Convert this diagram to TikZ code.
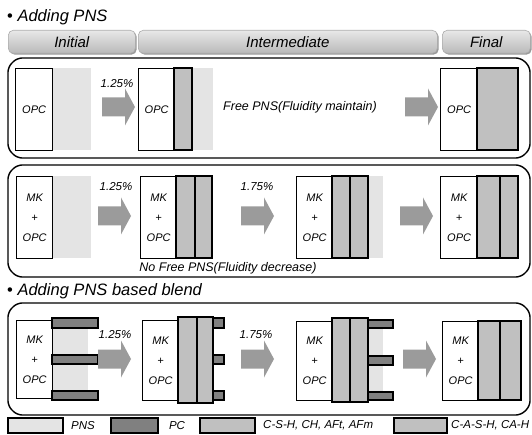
\documentclass[tikz,border=0pt]{standalone}
\usepackage{fontspec}
\setmainfont{Liberation Sans}
\usetikzlibrary{shadows}

\definecolor{pnsfill}{RGB}{228,228,228}
\definecolor{hydfill}{RGB}{192,192,192}
\definecolor{pcfill}{RGB}{128,128,128}
\definecolor{arrowfill}{RGB}{155,155,155}

\newcommand\lblfont{\fontsize{11}{20}\selectfont\itshape}
\newcommand\pctfont{\fontsize{11.5}{13}\selectfont\itshape}
\newcommand\notefont{\fontsize{12.5}{14}\selectfont\itshape}
\newcommand\legfont{\fontsize{11.5}{13}\selectfont\itshape}
\newcommand\tabfont{\fontsize{15}{17}\selectfont\itshape}
\newcommand\headfont{\fontsize{16.5}{18}\selectfont}

% chamfered frame round one row of stages
\newcommand\panelframe[4]{%
  \draw[frame] (#1,#2+9) -- (#1+9,#2) -- (#3-9,#2) -- (#3,#2+9)
    -- (#3,#4-9) -- (#3-9,#4) -- (#1+9,#4) -- (#1,#4-9) -- cycle;}
% block arrow: left end x, centre y
\newcommand\blockarrow[2]{%
  \fill[arrowfill] (#1,#2-9.5) -- (#1+23,#2-9.5) -- (#1+23,#2-18.5)
    -- (#1+33,#2) -- (#1+23,#2+18.5) -- (#1+23,#2+9.5) -- (#1,#2+9.5) -- cycle;}

\begin{document}
\begin{tikzpicture}[x=1pt,y=-1pt,
  outline/.style={draw=black,line width=1.3pt},
  cement/.style={outline,fill=white,inner sep=0pt,anchor=north west,
    font=\lblfont,align=center},
  pns/.style={fill=pnsfill},
  hyd/.style={outline,fill=hydfill},
  pcbar/.style={outline,fill=pcfill},
  legbox/.style={draw=black,line width=1.5pt},
  frame/.style={draw=black,line width=1.4pt,rounded corners=5pt},
  tab/.style={draw=gray!65,line width=0.6pt,rounded corners=5pt,
    top color=gray!18,bottom color=gray!55,anchor=north west,
    minimum height=23,inner sep=0pt,font=\tabfont,
    drop shadow={shadow xshift=1.3pt,shadow yshift=-1.3pt,fill=gray!80,opacity=1}},
  pct/.style={font=\pctfont,inner sep=0pt},
  note/.style={font=\notefont,inner sep=0pt},
  leg/.style={font=\legfont,inner sep=0pt}]

\useasboundingbox (0,0) rectangle (532,435);

% ---------- section headings ----------
\node[anchor=base west,font=\headfont,inner sep=0pt] (head1) at (7,22)
  {\textbullet\ \textit{Adding PNS}};
\node[anchor=base west,font=\headfont,inner sep=0pt] (head2) at (7,295)
  {\textbullet\ \textit{Adding PNS based blend}};

% ---------- stage tabs ----------
\node[tab,minimum width=127] (tabInit) at (8,30) {Initial};
\node[tab,minimum width=299] (tabMid) at (138,30) {Intermediate};
\node[tab,minimum width=88] (tabFin) at (442,30) {Final};

% ---------- row 1: OPC + PNS ----------
\panelframe{8}{58}{530}{158}
\fill[pns] (52,68) rectangle (91,150);
\node[cement,minimum width=37,minimum height=82] (r1a) at (15,68) {OPC};
\blockarrow{102}{107}
\node[pct] (r1p1) at (117,84) {1.25\%};
\fill[pns] (192,68) rectangle (213,150);
\node[cement,minimum width=36,minimum height=82] (r1b) at (138,68) {OPC};
\filldraw[hyd] (174,68) rectangle (192,150);
\node[note] (r1note) at (300,107) {Free PNS(Fluidity maintain)};
\blockarrow{405}{107}
\node[cement,minimum width=37,minimum height=82] (r1c) at (440,68) {OPC};
\filldraw[hyd] (477,68) rectangle (518,150);

% ---------- row 2: MK + OPC + PNS ----------
\panelframe{8}{165}{530}{277}
\fill[pns] (52,176) rectangle (91,258);
\node[cement,minimum width=36,minimum height=82] (r2a) at (16,176) {MK\\+\\OPC};
\blockarrow{98}{216}
\node[pct] (r2p1) at (116,187) {1.25\%};
\node[cement,minimum width=36,minimum height=82] (r2b) at (140,176) {MK\\+\\OPC};
\filldraw[hyd] (176,176) rectangle (195,258);
\filldraw[hyd] (195,176) rectangle (212,258);
\blockarrow{241}{216}
\node[pct] (r2p2) at (257,187) {1.75\%};
\fill[pns] (368,176) rectangle (383,258);
\node[cement,minimum width=36,minimum height=82] (r2c) at (296,176) {MK\\+\\OPC};
\filldraw[hyd] (332,176) rectangle (350,258);
\filldraw[hyd] (350,176) rectangle (368,258);
\blockarrow{400}{216}
\node[cement,minimum width=37,minimum height=82] (r2d) at (440,176) {MK\\+\\OPC};
\filldraw[hyd] (477,176) rectangle (500,258);
\filldraw[hyd] (500,176) rectangle (518,258);
\node[note] (r2note) at (228,268) {No Free PNS(Fluidity decrease)};

% ---------- row 3: PNS based blend ----------
\panelframe{8}{303}{530}{415}
\fill[pns] (52,318) rectangle (88,400);
\node[cement,minimum width=36,minimum height=78] (r3a) at (16,320) {MK\\+\\OPC};
\filldraw[pcbar] (52,318) rectangle (98,328);
\filldraw[pcbar] (52,355) rectangle (98,364);
\filldraw[pcbar] (52,391) rectangle (98,400);
\blockarrow{98}{359}
\node[pct] (r3p1) at (115,335) {1.25\%};
\node[cement,minimum width=36,minimum height=80] (r3b) at (142,320) {MK\\+\\OPC};
\filldraw[pcbar] (213,318) rectangle (224,328);
\filldraw[pcbar] (213,355) rectangle (224,364);
\filldraw[pcbar] (213,391) rectangle (224,400);
\filldraw[hyd] (178,317) rectangle (197,403);
\filldraw[hyd] (197,317) rectangle (213,403);
\blockarrow{241}{359}
\node[pct] (r3p2) at (256,335) {1.75\%};
\fill[pns] (368,321) rectangle (383,400);
\node[cement,minimum width=36,minimum height=79] (r3c) at (296,321) {MK\\+\\OPC};
\filldraw[pcbar] (368,320) rectangle (393,328);
\filldraw[pcbar] (368,356) rectangle (393,365);
\filldraw[pcbar] (368,392) rectangle (393,400);
\filldraw[hyd] (332,318) rectangle (350,402);
\filldraw[hyd] (350,318) rectangle (368,402);
\blockarrow{403}{359}
\node[cement,minimum width=36,minimum height=79] (r3d) at (442,321) {MK\\+\\OPC};
\filldraw[hyd] (478,321) rectangle (500,400);
\filldraw[hyd] (500,321) rectangle (521,400);

% ---------- legend ----------
\filldraw[legbox,fill=pnsfill] (8,418) rectangle (63,433);
\node[leg] (legPNS) at (83,425.5) {PNS};
\filldraw[legbox,fill=pcfill] (111,418) rectangle (158,433);
\node[leg] (legPC) at (177,425.5) {PC};
\filldraw[legbox,fill=hydfill] (200,418) rectangle (255,433);
\node[leg,anchor=west] (legCSH) at (263,425.5) {C-S-H, CH, AFt, AFm};
\filldraw[legbox,fill=hydfill] (394,418) rectangle (447,433);
\node[leg,anchor=west] (legCASH) at (451,425.5) {C-A-S-H, CA-H};
\end{tikzpicture}
\end{document}
